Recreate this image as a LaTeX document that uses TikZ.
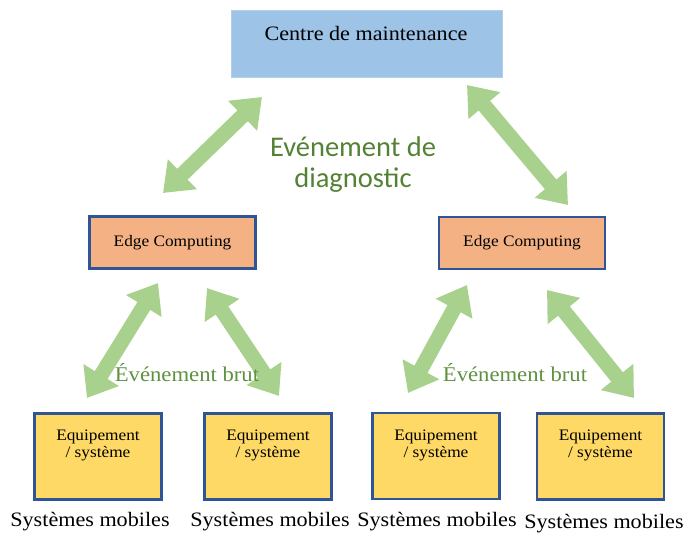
\documentclass[tikz,border=0pt]{standalone}
\usepackage{fontspec}
\setmainfont[FakeStretch=1.08]{Liberation Serif}
\newfontfamily\calib{Carlito}
\usetikzlibrary{arrows.meta}
\definecolor{arrowgreen}{HTML}{A9D18E}
\definecolor{boxblue}{HTML}{9DC3E6}
\definecolor{edgeorange}{HTML}{F4B183}
\definecolor{eqyellow}{HTML}{FFD966}
\definecolor{borderblue}{HTML}{2F5597}
\definecolor{labgreen}{HTML}{548235}
\definecolor{labgreenb}{HTML}{5E9140}
\begin{document}
\begin{tikzpicture}[x=1pt,y=-1pt,
  cmbox/.style={fill=boxblue, draw=boxblue!80!white, line width=0.6pt, minimum width=271pt, minimum height=67pt, inner sep=0pt},
  edgebox/.style={fill=edgeorange, draw=borderblue, line width=2.4pt, minimum width=166pt, minimum height=52pt, inner sep=0pt, font=\fontsize{16}{18}\selectfont},
  eqbox/.style={fill=eqyellow, draw=borderblue, line width=2.4pt, minimum width=127pt, minimum height=86pt, inner sep=0pt},
  eqtext/.style={align=center, font=\fontsize{16}{17}\selectfont, inner sep=0pt},
  mobtext/.style={font=\fontsize{20.5}{22}\selectfont, inner sep=0pt},
  dblarrow/.style={draw=arrowgreen, line width=15pt, {Triangle[width=40pt,length=27pt]}-{Triangle[width=40pt,length=27pt]}},
  brut/.style={text=labgreenb, font=\fontsize{21}{23}\selectfont, inner sep=0pt}
]
\useasboundingbox (0,0) rectangle (683,536);

% top box
\node[cmbox] (cm) at (366.5,43.5) {};
\node[font=\fontsize{20.5}{22}\selectfont, inner sep=0pt] (cmtext) at (366,33) {Centre de maintenance};

% edge boxes
\node[edgebox] (e1) at (172.5,242.5) {Edge Computing};
\node[edgebox] (e2) at (522,243) {Edge Computing};

% equipment boxes
\node[eqbox] (q1) at (98,456.5) {};
\node[eqbox] (q2) at (268,456.5) {};
\node[eqbox] (q3) at (436,456) {};
\node[eqbox] (q4) at (600.5,456.5) {};
\node[eqtext] (t1) at (98,445) {Equipement\\/ système};
\node[eqtext] (t2) at (268,445) {Equipement\\/ système};
\node[eqtext] (t3) at (436,445) {Equipement\\/ système};
\node[eqtext] (t4) at (600.5,445) {Equipement\\/ système};

% mobile labels
\node[mobtext] (m1) at (90,522) {Systèmes mobiles};
\node[mobtext] (m2) at (270,522) {Systèmes mobiles};
\node[mobtext] (m3) at (437,522) {Systèmes mobiles};
\node[mobtext] (m4) at (604,524) {Systèmes mobiles};

% arrow end points
\coordinate (a1s) at (163,193);
\coordinate (a1e) at (262,97);
\coordinate (a2s) at (467,85);
\coordinate (a2e) at (568,205);
\coordinate (b1s) at (87,398);
\coordinate (b1e) at (158,283);
\coordinate (b2s) at (207,288);
\coordinate (b2e) at (279,396);
\coordinate (c1s) at (408,393);
\coordinate (c1e) at (467,285);
\coordinate (c2s) at (547,290);
\coordinate (c2e) at (634,398);

\draw[dblarrow] (a1s) -- (a1e);
\draw[dblarrow] (a2s) -- (a2e);
\draw[dblarrow] (b1s) -- (b1e);
\draw[dblarrow] (b2s) -- (b2e);
\draw[dblarrow] (c1s) -- (c1e);
\draw[dblarrow] (c2s) -- (c2e);

% labels
\node[text=labgreen, align=center, font=\calib\fontsize{28.5}{31}\selectfont, inner sep=0pt] (diag) at (353,165) {Evénement de\\diagnostic};
\node[brut] (br1) at (187,373) {Événement brut};
\node[brut] (br2) at (515,373) {Événement brut};
\end{tikzpicture}
\end{document}
